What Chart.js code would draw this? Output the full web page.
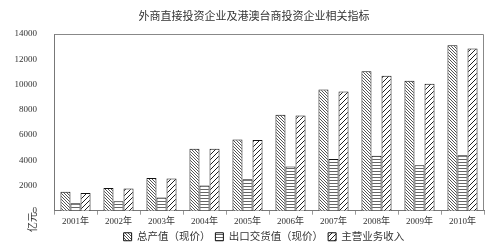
<!DOCTYPE html>
<html>
<head>
<meta charset="utf-8">
<script src="https://cdn.jsdelivr.net/npm/chart.js@4.4.1/dist/chart.umd.min.js"></script>
<style>
  html, body { margin: 0; padding: 0; background: #fff; }
  #wrap { width: 492px; height: 247px; }
</style>
</head>
<body>
<div id="wrap"><canvas id="chart" width="492" height="247"></canvas></div>
<script>
// chart data
const years = ['2001年', '2002年', '2003年', '2004年', '2005年', '2006年', '2007年', '2008年', '2009年', '2010年'];
const totalOutput = [1500, 1800, 2600, 4900, 5650, 7600, 9600, 11050, 10300, 13100];
const exportValue = [600, 750, 1050, 2000, 2500, 3500, 4100, 4350, 3600, 4400];
const mainRevenue = [1400, 1750, 2550, 4900, 5600, 7550, 9450, 10700, 10050, 12850];
const yTicks = [0, 2000, 4000, 6000, 8000, 10000, 12000, 14000];

const FONT = '"Liberation Serif", "Noto Sans CJK SC", serif';

// hatch patterns
function makePattern(size, draw) {
    const c = document.createElement('canvas');
    c.width = size; c.height = size;
    const g = c.getContext('2d');
    g.fillStyle = '#fff';
    g.fillRect(0, 0, size, size);
    draw(g, size);
    return g.createPattern(c, 'repeat');
}

const patTotal = makePattern(3, (g, s) => {
    g.fillStyle = '#555';
    for (let i = 0; i < s; i++) g.fillRect(i, i, 1, 1);
});
const patExport = makePattern(3, (g, s) => {
    g.fillStyle = '#666';
    g.fillRect(0, 0, s, 1);
});
const patMain = makePattern(5, (g, s) => {
    g.fillStyle = '#222';
    for (let i = 0; i < s; i++) g.fillRect(s - 1 - i, i, 1, 1);
});

// frame, title and unit label; legend nudged
const decorPlugin = {
    id: 'decor',
    afterLayout(chart) {
        chart.legend.left += 22;
        chart.legend.right += 22;
        chart.legend.top -= 3;
        chart.legend.bottom -= 3;
    },
    afterDraw(chart) {
        const { ctx, chartArea: a } = chart;
        ctx.save();
        ctx.strokeStyle = '#888';
        ctx.lineWidth = 1;
        ctx.beginPath();
        ctx.moveTo(a.left + 0.5, a.top + 0.5);
        ctx.lineTo(a.right - 0.5, a.top + 0.5);
        ctx.lineTo(a.right - 0.5, a.bottom);
        ctx.stroke();

        ctx.fillStyle = '#333';
        ctx.font = '11px ' + FONT;
        ctx.textAlign = 'center';
        ctx.textBaseline = 'middle';
        ctx.fillText('外商直接投资企业及港澳台商投资企业相关指标', 254, 17);

        ctx.translate(33, 222);
        ctx.rotate(-Math.PI / 2);
        ctx.font = '10px ' + FONT;
        ctx.fillText('亿元', 0, 0);
        ctx.restore();
    }
};

new Chart(document.getElementById('chart'), {
    type: 'bar',
    data: {
        labels: years,
        datasets: [
            { label: '总产值（现价）', data: totalOutput, backgroundColor: patTotal },
            { label: '出口交货值（现价）', data: exportValue, backgroundColor: patExport },
            { label: '主营业务收入', data: mainRevenue, backgroundColor: patMain }
        ].map(d => Object.assign(d, {
            borderColor: '#111',
            borderWidth: 1,
            borderSkipped: 'bottom',
            categoryPercentage: 0.7,
            barPercentage: 1.0
        }))
    },
    options: {
        responsive: false,
        animation: false,
        layout: { padding: { left: 0, right: 8, top: 34, bottom: -8 } },
        plugins: {
            title: { display: false },
            tooltip: { enabled: false },
            legend: {
                position: 'bottom',
                labels: {
                    boxWidth: 8,
                    boxHeight: 8,
                    padding: 5,
                    color: '#333',
                    font: { size: 10.5, family: FONT }
                }
            }
        },
        scales: {
            x: {
                grid: {
                    display: true,
                    drawOnChartArea: false,
                    offset: true,
                    tickLength: 4,
                    color: '#999'
                },
                border: { display: true, color: '#777' },
                ticks: {
                    color: '#333',
                    maxRotation: 0,
                    autoSkip: false,
                    padding: 2,
                    font: { size: 9, family: FONT }
                }
            },
            y: {
                min: 0,
                max: 14000,
                afterFit(scale) { scale.width = 54; },
                afterBuildTicks(scale) { scale.ticks = yTicks.map(v => ({ value: v })); },
                grid: { display: false },
                border: { display: true, color: '#777' },
                ticks: {
                    color: '#333',
                    padding: 9,
                    font: { size: 9, family: FONT },
                    callback: v => String(v)
                }
            }
        }
    },
    plugins: [decorPlugin]
});
</script>
</body>
</html>
